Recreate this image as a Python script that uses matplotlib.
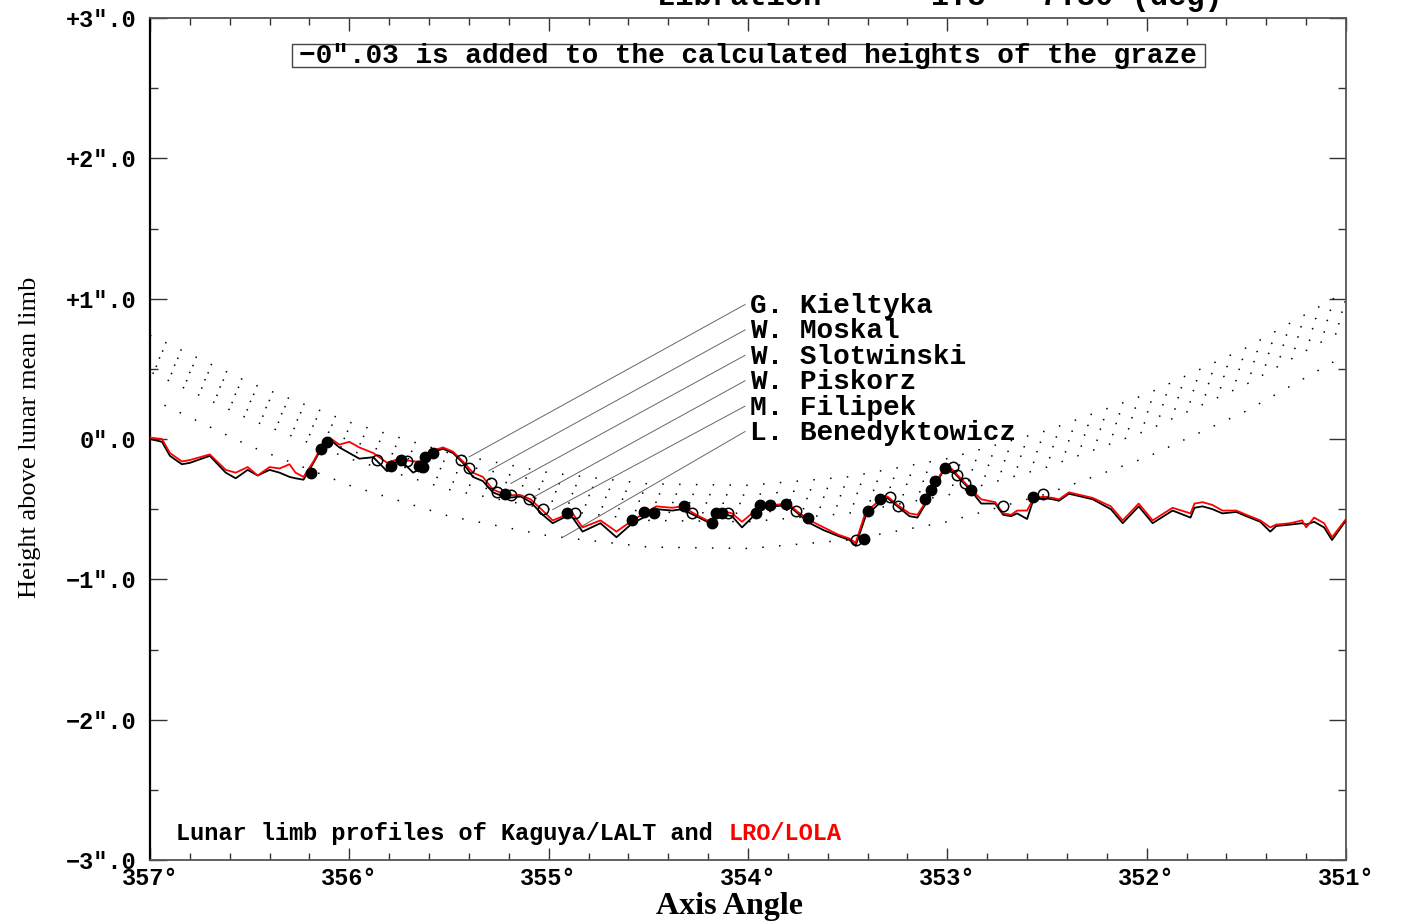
import matplotlib
matplotlib.use('Agg')
import matplotlib.pyplot as plt
import numpy as np
from matplotlib.ticker import MultipleLocator
from matplotlib.patches import Rectangle
from matplotlib.transforms import offset_copy

# lunar limb profiles (axis angle in deg, height in arcsec)
prof_angle = [357.00, 356.94, 356.90, 356.84, 356.80, 356.70, 356.62, 356.57, 356.51, 356.46,
              356.40, 356.35, 356.30, 356.27, 356.23, 356.18, 356.13, 356.10, 356.05, 356.00,
              355.95, 355.88, 355.81, 355.75, 355.68, 355.63, 355.60, 355.53, 355.48, 355.43,
              355.38, 355.33, 355.28, 355.21, 355.14, 355.09, 355.03, 354.98, 354.91, 354.88,
              354.83, 354.74, 354.66, 354.58, 354.51, 354.46, 354.38, 354.33, 354.26, 354.19,
              354.14, 354.08, 354.03, 353.98, 353.94, 353.87, 353.80, 353.75, 353.69, 353.62,
              353.55, 353.49, 353.46, 353.41, 353.35, 353.30, 353.25, 353.19, 353.15, 353.10,
              353.06, 353.02, 352.98, 352.94, 352.88, 352.83, 352.76, 352.72, 352.68, 352.65,
              352.60, 352.57, 352.52, 352.47, 352.44, 352.39, 352.33, 352.27, 352.18, 352.12,
              352.04, 351.97, 351.87, 351.78, 351.76, 351.72, 351.67, 351.62, 351.55, 351.50,
              351.43, 351.38, 351.35, 351.28, 351.22, 351.20, 351.16, 351.11, 351.07, 351.00]

lola_height = [0.01, 0.00, -0.10, -0.16, -0.15, -0.11, -0.22, -0.24, -0.20, -0.26,
               -0.20, -0.21, -0.18, -0.24, -0.27, -0.16, -0.03, 0.01, -0.04, -0.02,
               -0.06, -0.10, -0.17, -0.14, -0.16, -0.16, -0.09, -0.06, -0.09, -0.16,
               -0.24, -0.27, -0.36, -0.40, -0.40, -0.43, -0.51, -0.58, -0.54, -0.53,
               -0.63, -0.58, -0.66, -0.58, -0.52, -0.48, -0.49, -0.48, -0.54, -0.59,
               -0.51, -0.53, -0.59, -0.53, -0.47, -0.47, -0.46, -0.52, -0.58, -0.63,
               -0.68, -0.71, -0.74, -0.52, -0.45, -0.41, -0.47, -0.53, -0.54, -0.43,
               -0.31, -0.22, -0.21, -0.27, -0.36, -0.43, -0.45, -0.53, -0.54, -0.51,
               -0.51, -0.43, -0.41, -0.42, -0.43, -0.38, -0.40, -0.42, -0.48, -0.58,
               -0.46, -0.58, -0.49, -0.53, -0.46, -0.45, -0.47, -0.51, -0.51, -0.54,
               -0.58, -0.63, -0.61, -0.60, -0.58, -0.63, -0.56, -0.60, -0.70, -0.57]

kaguya_height = [0.00, -0.02, -0.12, -0.18, -0.17, -0.12, -0.24, -0.28, -0.22, -0.26,
                 -0.22, -0.24, -0.27, -0.28, -0.29, -0.17, -0.04, 0.00, -0.06, -0.10,
                 -0.14, -0.13, -0.23, -0.14, -0.24, -0.20, -0.10, -0.07, -0.10, -0.17,
                 -0.27, -0.30, -0.38, -0.42, -0.41, -0.45, -0.54, -0.60, -0.55, -0.56,
                 -0.66, -0.60, -0.70, -0.60, -0.55, -0.50, -0.51, -0.50, -0.55, -0.60,
                 -0.53, -0.55, -0.63, -0.56, -0.48, -0.48, -0.47, -0.53, -0.60, -0.65,
                 -0.69, -0.72, -0.76, -0.55, -0.47, -0.42, -0.48, -0.55, -0.56, -0.44,
                 -0.32, -0.23, -0.22, -0.28, -0.37, -0.46, -0.46, -0.54, -0.55, -0.53,
                 -0.57, -0.44, -0.42, -0.43, -0.44, -0.39, -0.41, -0.43, -0.50, -0.60,
                 -0.48, -0.60, -0.51, -0.56, -0.49, -0.48, -0.50, -0.53, -0.52, -0.55,
                 -0.59, -0.66, -0.62, -0.61, -0.60, -0.61, -0.59, -0.63, -0.72, -0.58]

# predicted graze paths for each observer (+ -0.03" correction applied)
observers = ['G. Kieltyka', 'W. Moskal', 'W. Slotwinski', 'W. Piskorz',
             'M. Filipek', 'L. Benedyktowicz']
path_angle = [357.0, 356.5, 356.0, 355.5, 355.0, 354.5, 354.0, 353.5, 353.0, 352.5, 352.0, 351.5, 351.0]
path_heights = [
    [0.74, 0.40, 0.12, -0.10, -0.24, -0.32, -0.33, -0.27, -0.14, 0.06, 0.32, 0.65, 1.05],
    [0.67, 0.33, 0.05, -0.17, -0.31, -0.39, -0.40, -0.34, -0.21, -0.01, 0.25, 0.58, 0.98],
    [0.61, 0.27, -0.01, -0.23, -0.37, -0.45, -0.46, -0.40, -0.27, -0.07, 0.19, 0.52, 0.92],
    [0.54, 0.20, -0.08, -0.30, -0.44, -0.52, -0.53, -0.47, -0.34, -0.14, 0.12, 0.45, 0.85],
    [0.48, 0.14, -0.14, -0.36, -0.50, -0.58, -0.59, -0.53, -0.40, -0.20, 0.06, 0.39, 0.79],
    [0.29, -0.05, -0.33, -0.55, -0.69, -0.77, -0.78, -0.72, -0.59, -0.39, -0.13, 0.20, 0.60],
]
leader_end_angle = [355.40, 355.30, 355.19, 355.08, 354.98, 354.93]

# observed events: disappearances (filled) and reappearances (open)
filled_angle = [356.19, 356.14, 356.11, 355.79, 355.74, 355.65, 355.63, 355.62, 355.58, 355.22,
                354.91, 354.58, 354.52, 354.47, 354.32, 354.18, 354.16, 354.13, 353.96, 353.94,
                353.89, 353.81, 353.70, 353.42, 353.40, 353.34, 353.11, 353.08, 353.06, 353.01,
                352.88, 352.57]
filled_height = [-0.24, -0.07, -0.02, -0.19, -0.15, -0.19, -0.20, -0.13, -0.10, -0.39,
                 -0.53, -0.58, -0.52, -0.53, -0.48, -0.60, -0.53, -0.53, -0.53, -0.47,
                 -0.47, -0.46, -0.56, -0.71, -0.51, -0.43, -0.43, -0.36, -0.30, -0.21,
                 -0.36, -0.41]
open_angle = [355.86, 355.71, 355.44, 355.40, 355.29, 355.26, 355.19, 355.10, 355.03, 354.87,
              354.28, 354.10, 353.76, 353.46, 353.29, 353.25, 352.97, 352.95, 352.91, 352.72,
              352.52]
open_height = [-0.15, -0.16, -0.15, -0.21, -0.31, -0.38, -0.40, -0.43, -0.50, -0.53,
               -0.53, -0.53, -0.51, -0.72, -0.41, -0.48, -0.20, -0.26, -0.31, -0.48,
               -0.39]

y_ticks = [3, 2, 1, 0, -1, -2, -3]
y_labels = ['+3".0', '+2".0', '+1".0', '0".0', '\u22121".0', '\u22122".0', '\u22123".0']
x_ticks = [357, 356, 355, 354, 353, 352, 351]
x_labels = ['357\u00b0', '356\u00b0', '355\u00b0', '354\u00b0', '353\u00b0', '352\u00b0', '351\u00b0']

mono = 'Liberation Mono'
serif = 'Liberation Serif'

fig = plt.figure(figsize=(14.01, 9.23), dpi=100)
ax = fig.add_axes([150 / 1401, 63 / 923, 1196 / 1401, 842 / 923])

# graze paths (dotted, staggered so the dots of neighbouring paths do not line up)
for i, h in enumerate(path_heights):
    ax.plot(path_angle, h, color='black', lw=1.1, linestyle=(i * 2.3, (1, 10)), zorder=2)

# leader lines and observer names
label_angle = 353.99
label_top = 0.948
label_step = 0.181
for i, name in enumerate(observers):
    ly = label_top - i * label_step
    ey = np.interp(leader_end_angle[i], path_angle[::-1], path_heights[i][::-1])
    ax.plot([354.015, leader_end_angle[i]], [ly + 0.01, ey], color='#666666', lw=0.7, zorder=2)
    ax.text(label_angle, ly, name, fontsize=20, family=mono, weight='bold',
            va='center', ha='left', zorder=4)

# limb profiles
ax.plot(prof_angle, kaguya_height, color='black', lw=1.3, zorder=3)
ax.plot(prof_angle, lola_height, color='red', lw=1.3, zorder=3)

# events
ax.plot(filled_angle, filled_height, 'o', ms=7.5, color='black', zorder=5)
ax.plot(open_angle, open_height, 'o', ms=7.5, mfc='none', mec='black', mew=1.1, zorder=5)

ax.set_xlim(357, 351)
ax.set_ylim(-3, 3)

ax.set_yticks(y_ticks)
ax.set_yticklabels(y_labels, family=mono, weight='bold', fontsize=17)
ax.set_xticks(x_ticks)
ax.set_xticklabels(x_labels, family=mono, weight='bold', fontsize=17)
ax.xaxis.set_minor_locator(MultipleLocator(0.2))
ax.yaxis.set_minor_locator(MultipleLocator(0.5))
ax.tick_params(axis='x', which='major', direction='in', length=9, width=1.0,
               top=True, bottom=True, pad=5, color='#333333')
ax.tick_params(axis='x', which='minor', direction='in', length=5, width=1.0,
               top=True, bottom=True, color='#333333')
ax.tick_params(axis='y', which='major', direction='in', length=12, width=1.0,
               left=True, right=True, pad=10, color='#333333')
ax.tick_params(axis='y', which='minor', direction='in', length=6, width=1.0,
               left=True, right=True, color='#333333')

ax.spines['left'].set_color('black')
ax.spines['left'].set_linewidth(1.6)
for s in ['top', 'bottom', 'right']:
    ax.spines[s].set_color('#555555')
    ax.spines[s].set_linewidth(1.3)

# correction note in a box
ax.add_patch(Rectangle((0.1187, 0.9418), 0.7635, 0.0273, transform=ax.transAxes,
                       fill=False, edgecolor='#444444', lw=1.0, zorder=4))
ax.text(0.5, 0.955, '\u22120".03 is added to the calculated heights of the graze',
        transform=ax.transAxes, fontsize=20, family=mono, weight='bold',
        ha='center', va='center', zorder=5)

# source note
prefix = 'Lunar limb profiles of Kaguya/LALT and '
note_size = 17
ax.text(0.0217, 0.0238, prefix, transform=ax.transAxes, fontsize=note_size,
        family=mono, weight='bold', va='baseline', ha='left')
red_tr = offset_copy(ax.transAxes, fig=fig, x=len(prefix) * 0.6 * note_size, y=0, units='points')
ax.text(0.0217, 0.0238, 'LRO/LOLA', transform=red_tr, fontsize=note_size,
        family=mono, weight='bold', va='baseline', ha='left', color='red')

# axis titles
fig.text(729 / 1401, 1 - 914 / 923, 'Axis Angle', family=serif, weight='bold',
         fontsize=23, ha='center', va='baseline')
fig.text(30 / 1401, 1 - 437 / 923, 'Height above lunar mean limb', family=serif,
         fontsize=19, rotation=90, ha='center', va='center')

# header line, mostly cut off at the top edge
fig.text(657 / 1401, 1 - 5 / 923, 'Libration     \u22121.8   7.30 (deg)', family=mono,
         weight='bold', fontsize=22, ha='left', va='baseline')

fig.savefig('out.png', dpi=100)
